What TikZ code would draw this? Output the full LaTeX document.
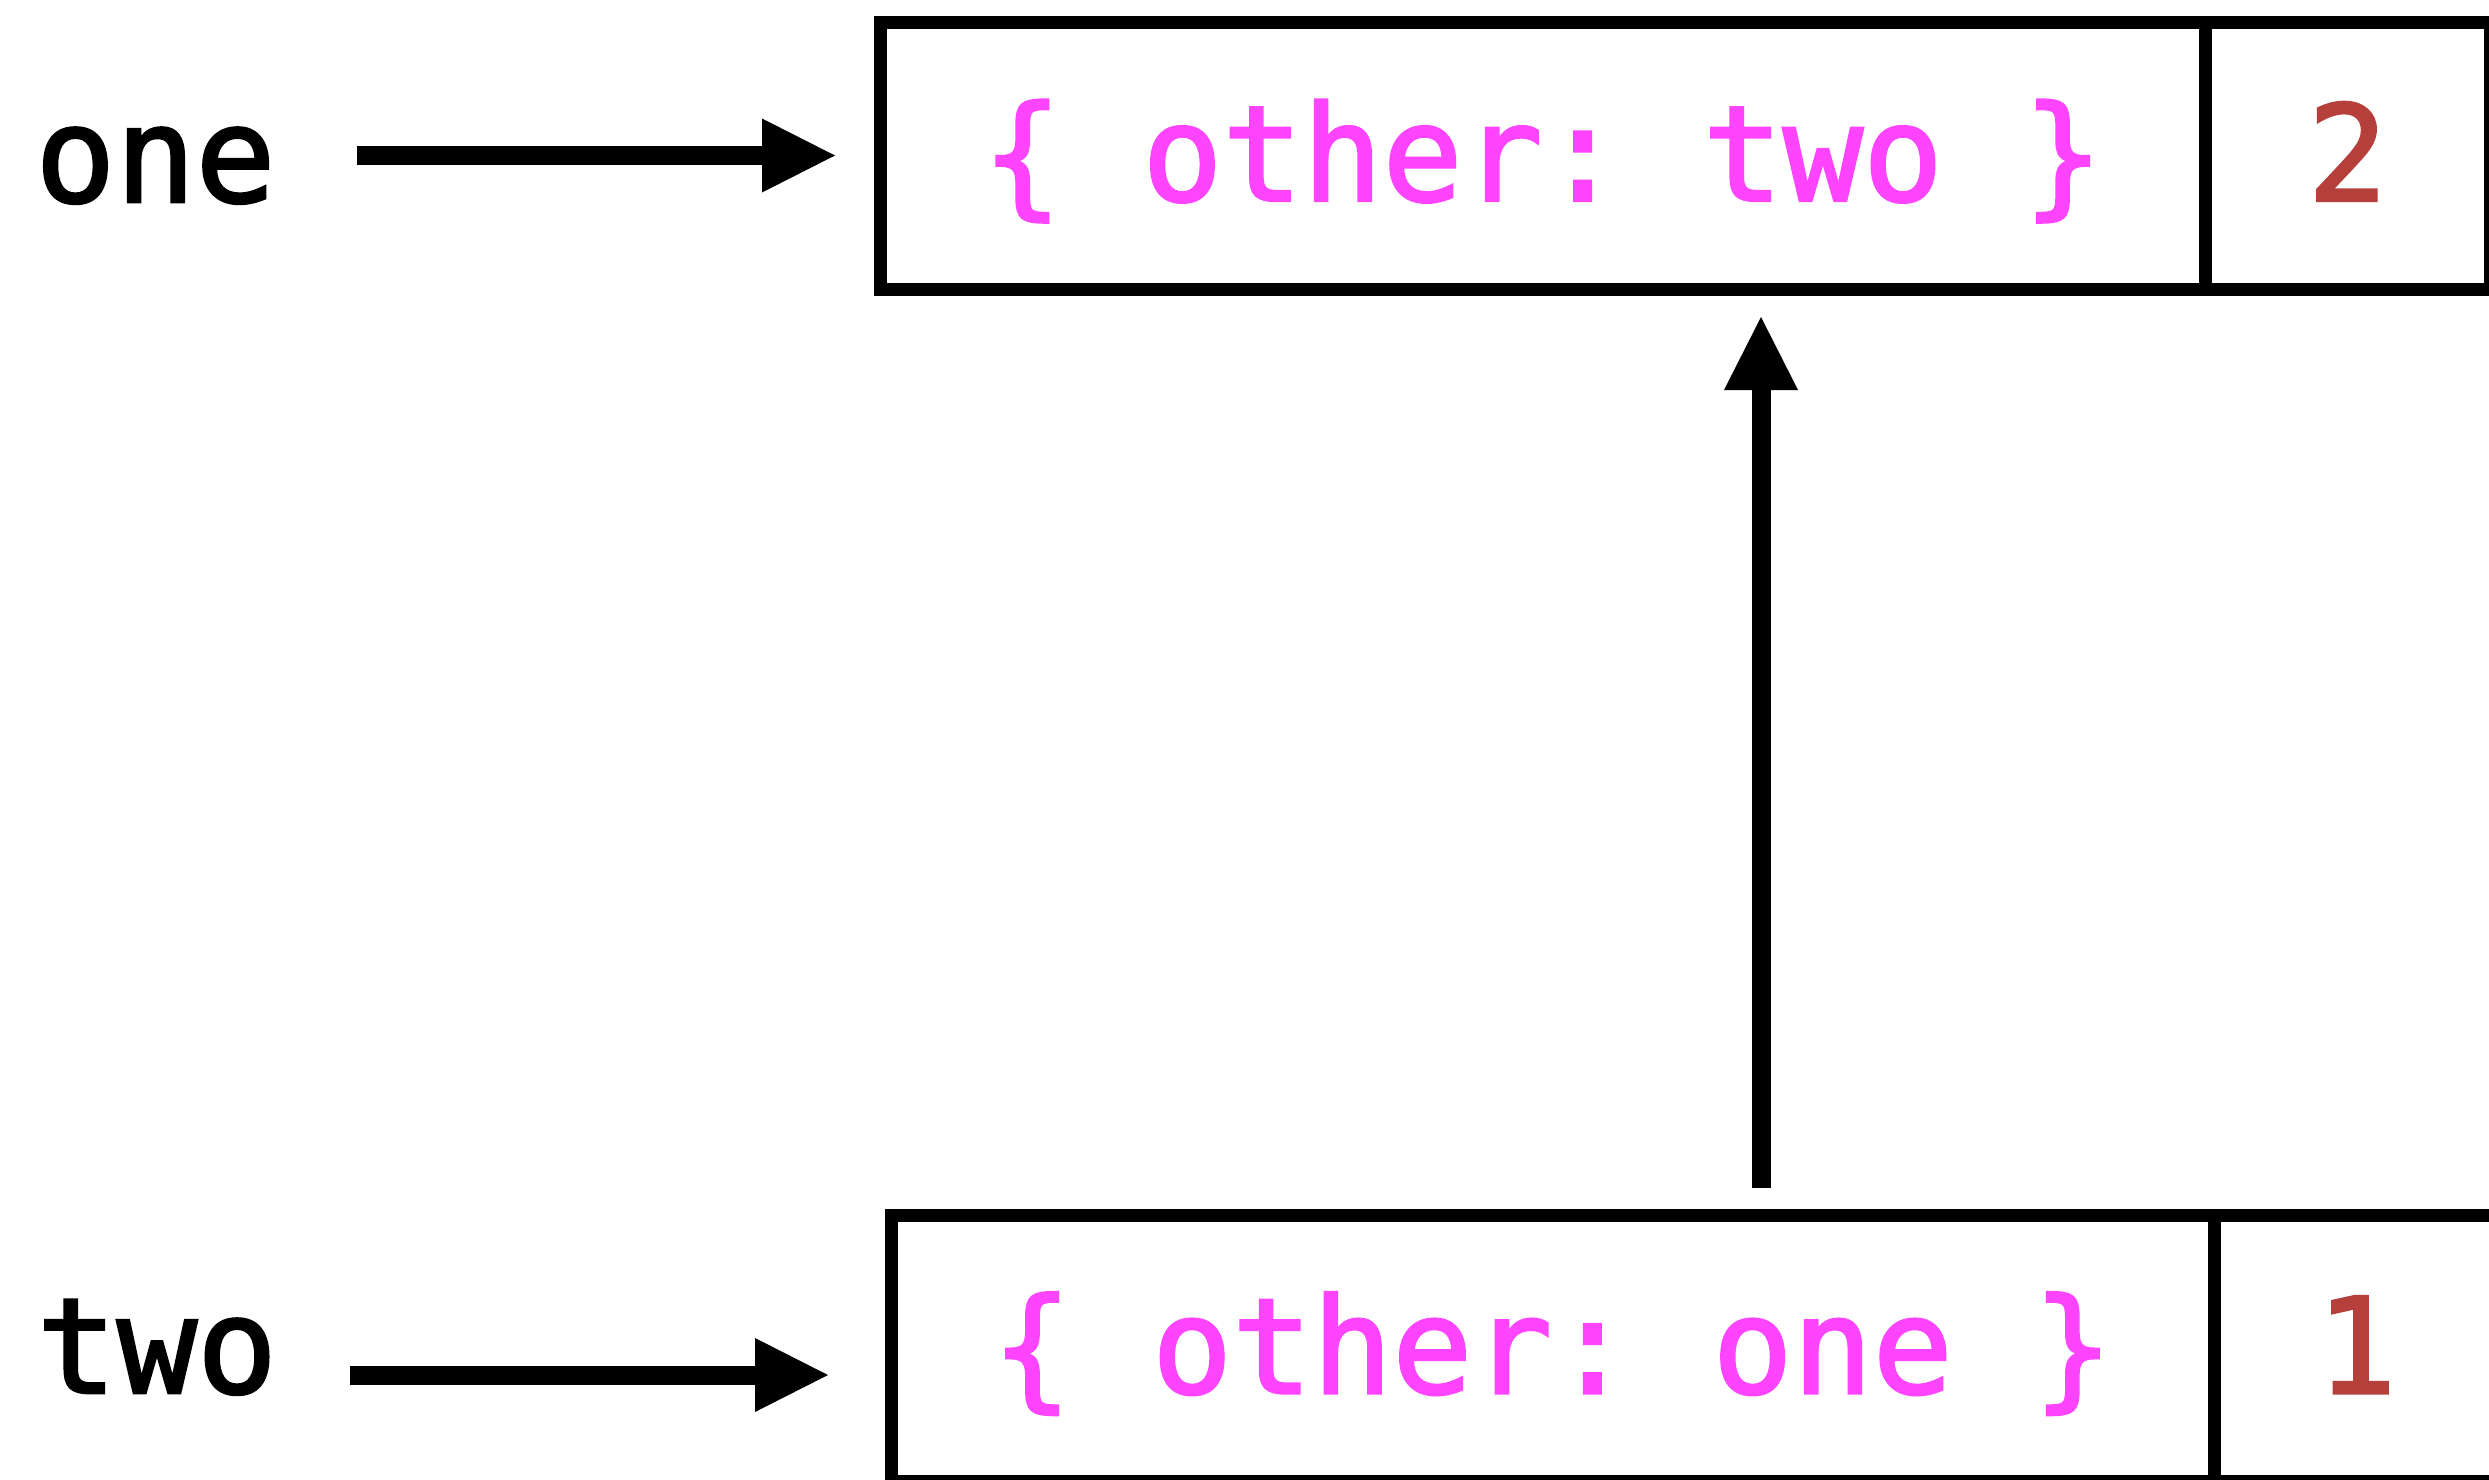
\documentclass[tikz,border=0pt]{standalone}
\usepackage{fontspec}
\setmonofont{DejaVu Sans Mono}[BoldFont={DejaVu Sans Mono}, BoldFeatures={FakeBold=2}]
\usetikzlibrary{arrows.meta,calc}
\definecolor{objpink}{RGB}{255,68,255}
\definecolor{numred}{RGB}{181,63,58}
\newcommand\bigmono{\ttfamily\bfseries\fontsize{133}{160}\selectfont}
\begin{document}
\begin{tikzpicture}[x=1pt,y=-1pt,
  lbl/.style={font=\bigmono, inner sep=0pt, outer sep=0pt, text height=93pt, text depth=0pt, anchor=base},
  cell/.style={draw=black, line width=13pt, inner sep=0pt, outer sep=0pt, minimum height=266.5pt,
    font=\bigmono, text height=100pt, text depth=10pt},
  objtext/.style={text=objpink},
  numtext/.style={text=numred},
  arr/.style={line width=19pt, -{Triangle[length=73pt 0 0, width=74pt 0 0, line width=0pt 0 0]}}
]
\useasboundingbox (0,0) rectangle (2489,1480);
\clip (0,0) rectangle (2489,1480);

% labels
\node[lbl] (one) at (155.5,202) {one};
\node[lbl] (two) at (157,1393) {two};

% top object
\node[cell, objtext, minimum width=1324.5pt] (c1L) at (1542.75,155.75) {\{ other: two \}};
\node[cell, numtext, minimum width=285pt] (c1R) at (2347.5,155.75) {2};

% bottom object
\node[cell, objtext, minimum width=1323pt] (c2L) at (1552.5,1348.25) {\{ other: one \}};
\node[cell, numtext, minimum width=285pt] (c2R) at (2356.5,1348.25) {1};

% arrows
\draw[arr, shorten <=81pt, shorten >=45.5pt] (one.east) -- (one.east -| c1L.west);
\coordinate (t2) at ([yshift=-28.5pt]two.east);
\draw[arr, shorten <=73pt, shorten >=63pt] (t2) -- (t2 -| c2L.west);
\coordinate (vb) at ($(c2L.north west)!0.6576!(c2L.north east)$);
\draw[arr, shorten <=27pt, shorten >=28pt] (vb) -- (vb |- c1L.south);
\end{tikzpicture}
\end{document}
